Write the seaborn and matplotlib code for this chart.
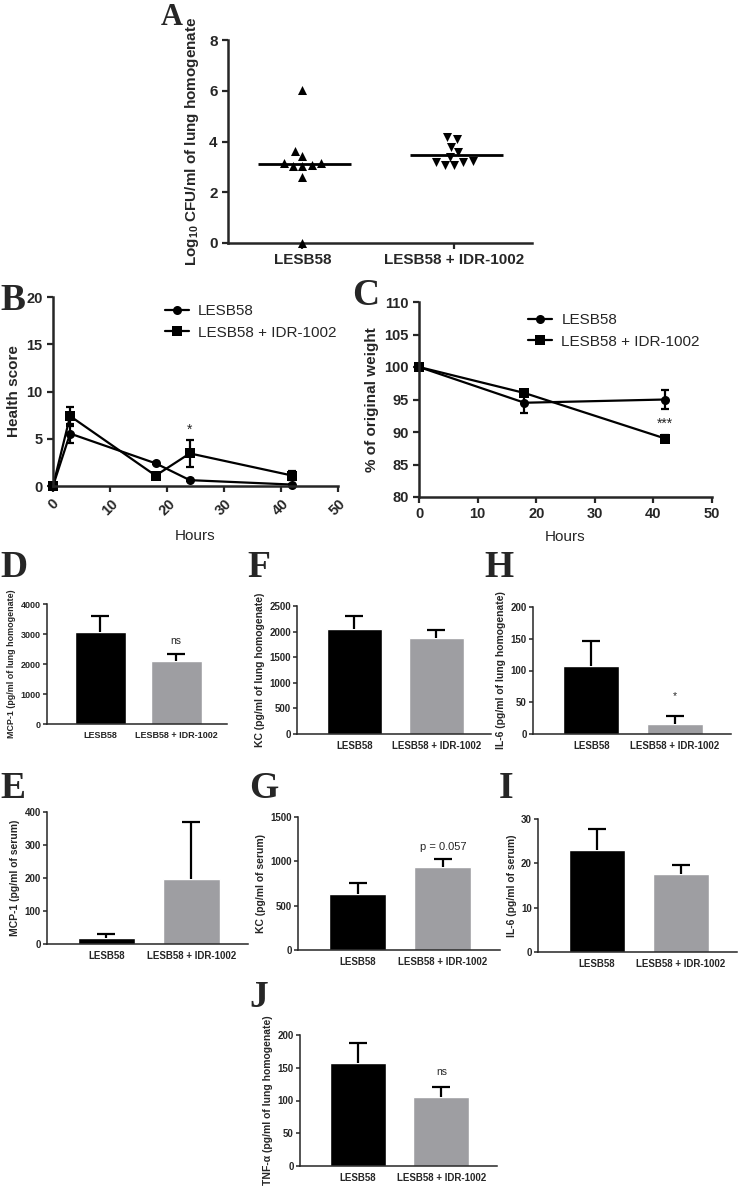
import numpy as np
import pandas as pd
import matplotlib
matplotlib.use('Agg')
import matplotlib.pyplot as plt
import seaborn as sns

sns.set_style('ticks')
plt.rcParams['font.family'] = ['Liberation Sans', 'DejaVu Sans']
plt.rcParams['mathtext.default'] = 'regular'

W, H = 742, 1188

# ---- data ----
groups = ['LESB58', 'LESB58 + IDR-1002']

# A: bacterial load (log10 CFU/ml)
cfu_lesb = [6.03, 3.61, 3.41, 3.17, 3.15, 3.08, 3.02, 3.02, 2.62, 0.0]
cfu_idr = [4.17, 4.09, 3.80, 3.57, 3.38, 3.24, 3.21, 3.20, 3.06, 3.06]

# B: health score
hours_b = [0, 3, 18, 24, 42]
health_lesb = [0, 5.55, 2.4, 0.62, 0.15]
health_lesb_err = [0, 1.0, 0.1, 0.1, 0.1]
health_idr = [0, 7.4, 1.1, 3.45, 1.1]
health_idr_err = [0, 1.0, 0.15, 1.45, 0.45]

# C: weight
hours_c = [0, 18, 42]
weight_lesb = [100, 94.5, 95.0]
weight_lesb_err = [0, 1.6, 1.5]
weight_idr = [100, 96.0, 89.0]
weight_idr_err = [0, 0.3, 0.5]

# D-J: cytokines
mcp1_lung = [3070, 2090]
mcp1_lung_err = [540, 255]
kc_lung = [2045, 1877]
kc_lung_err = [260, 155]
il6_lung = [106.5, 15.7]
il6_lung_err = [40, 12]
mcp1_serum = [17, 198]
mcp1_serum_err = [13, 173]
kc_serum = [626, 937]
kc_serum_err = [128, 94]
il6_serum = [22.9, 17.6]
il6_serum_err = [4.8, 2.1]
tnf_lung = [156.5, 105]
tnf_lung_err = [31, 15]

bar_colors = ['#000000', '#9e9ea2']

fig = plt.figure(figsize=(W / 100, H / 100), dpi=100)


def add_ax(l, t, r, b):
    return fig.add_axes([l / W, 1 - b / H, (r - l) / W, (b - t) / H])


def panel_letter(x, y, s, size=27):
    fig.text(x / W, 1 - y / H, s, family='Liberation Serif', weight='bold',
             fontsize=size, va='baseline', ha='left')


# =============================================
# A. CFU scatter
# =============================================
ax = add_ax(228, 40, 532, 243)
sns.swarmplot(x=[groups[0]] * len(cfu_lesb), y=cfu_lesb, order=groups,
              marker='^', color='black', size=6.5, ax=ax)
sns.swarmplot(x=[groups[1]] * len(cfu_idr), y=cfu_idr, order=groups,
              marker='v', color='black', size=6.5, ax=ax)
for c in ax.collections:
    c.set_clip_on(False)
for i, vals in enumerate([cfu_lesb, cfu_idr]):
    ax.hlines(np.mean(vals), i - 0.29, i + 0.32, color='black', lw=2)
ax.set_xlim(-0.49, 1.51)
ax.set_ylim(0, 8)
ax.set_yticks([0, 2, 4, 6, 8])
ax.set_ylabel('Log$_{10}$ CFU/ml of lung homogenate', fontsize=11,
              fontweight='bold', labelpad=6)
ax.set_xlabel('')
for lab in ax.get_xticklabels() + ax.get_yticklabels():
    lab.set_fontweight('bold')
ax.tick_params(labelsize=11, width=1.6, length=4)
for s in ['left', 'bottom']:
    ax.spines[s].set_linewidth(1.8)
sns.despine(ax=ax)
panel_letter(161, 25, 'A', size=22)


# =============================================
# B, C. time courses
# =============================================
def time_panel(rect, hours, v1, e1, v2, e2, ylim, yticks, ylabel, rot, leg_anchor):
    ax = add_ax(*rect)
    sns.lineplot(x=hours, y=v1, marker='o', markersize=6.5, color='black', lw=1.6,
                 label='LESB58', ax=ax, clip_on=False, markeredgewidth=0)
    sns.lineplot(x=hours, y=v2, marker='s', markersize=7, color='black', lw=1.6,
                 label='LESB58 + IDR-1002', ax=ax, clip_on=False, markeredgewidth=0)
    ax.errorbar(hours, v1, yerr=e1, fmt='none', ecolor='black', elinewidth=1.6,
                capsize=3, capthick=1.6, clip_on=False)
    ax.errorbar(hours, v2, yerr=e2, fmt='none', ecolor='black', elinewidth=1.6,
                capsize=3, capthick=1.6, clip_on=False)
    ax.set_xlim(0, 50)
    ax.set_ylim(*ylim)
    ax.set_yticks(yticks)
    ax.set_xticks([0, 10, 20, 30, 40, 50])
    ax.set_ylabel(ylabel, fontsize=11, fontweight='bold', labelpad=4)
    ax.set_xlabel('Hours', fontsize=11)
    ax.tick_params(labelsize=10.5, width=1.6, length=4)
    for lab in ax.get_xticklabels() + ax.get_yticklabels():
        lab.set_fontweight('bold')
    if rot:
        plt.setp(ax.get_xticklabels(), rotation=45, ha='center', va='top')
    for s in ['left', 'bottom']:
        ax.spines[s].set_linewidth(1.8)
    sns.despine(ax=ax)
    ax.legend(loc='upper left', bbox_to_anchor=leg_anchor, frameon=False,
              fontsize=11, handlelength=1.6, borderaxespad=0, labelspacing=0.5,
              handletextpad=0.6)
    return ax


ax = time_panel((53, 297, 338, 486), hours_b, health_lesb, health_lesb_err,
                health_idr, health_idr_err, (0, 20), [0, 5, 10, 15, 20],
                'Health score', True, (0.37, 0.995))
ax.xaxis.labelpad = 8
ax.text(24, 6.0, '*', ha='center', va='center', fontsize=10)
panel_letter(0, 310, 'B')

ax = time_panel((419, 302, 712, 497), hours_c, weight_lesb, weight_lesb_err,
                weight_idr, weight_idr_err, (80, 110), [80, 85, 90, 95, 100, 105, 110],
                '% of original weight', False, (0.35, 0.975))
ax.xaxis.labelpad = 6
ax.text(42, 91.2, '***', ha='center', va='center', fontsize=10)
panel_letter(352, 305, 'C')


# =============================================
# D-J. cytokine bars
# =============================================
def bar_panel(rect, vals, errs, ymax, step, ylabel, fs=7, lfs=7.5):
    ax = add_ax(*rect)
    df = pd.DataFrame({'group': groups, 'value': vals})
    sns.barplot(data=df, x='group', y='value', hue='group', palette=bar_colors,
                width=0.67, errorbar=None, legend=False, saturation=1, ax=ax)
    eb = ax.errorbar([0, 1], vals, yerr=[[0, 0], errs], fmt='none', ecolor='black',
                     elinewidth=1.6, capsize=6.5, capthick=1.6)
    # upper error only: hide the cap sitting on the bar top
    eb[1][0].set_visible(False)
    ax.set_xlim(-0.7, 1.67)
    ax.set_ylim(0, ymax)
    ax.set_yticks(np.arange(0, ymax + step / 2, step))
    ax.set_xlabel('')
    ax.set_ylabel(ylabel, fontsize=lfs, fontweight='bold', labelpad=3)
    ax.tick_params(axis='y', labelsize=fs, width=1.1, length=3, pad=1.5)
    ax.tick_params(axis='x', labelsize=fs, length=0, pad=5)
    for lab in ax.get_xticklabels() + ax.get_yticklabels():
        lab.set_fontweight('bold')
    for s in ['left', 'bottom']:
        ax.spines[s].set_linewidth(1.1)
    sns.despine(ax=ax)
    return ax


ax = bar_panel((47, 604, 227, 724), mcp1_lung, mcp1_lung_err, 4000, 1000,
               'MCP-1 (pg/ml of lung homogenate)', fs=6.5, lfs=6.4)
ax.text(1, 2755, 'ns', ha='center', va='center', fontsize=7.5)
panel_letter(0, 577, 'D')

ax = bar_panel((297, 606, 491, 734), kc_lung, kc_lung_err, 2500, 500,
               'KC (pg/ml of lung homogenate)')
panel_letter(247, 577, 'F')

ax = bar_panel((533, 607, 731, 734), il6_lung, il6_lung_err, 200, 50,
               'IL-6 (pg/ml of lung homogenate)')
ax.text(1, 59, '*', ha='center', va='center', fontsize=7.5)
panel_letter(484, 577, 'H')

ax = bar_panel((47, 812, 248, 944), mcp1_serum, mcp1_serum_err, 400, 100,
               'MCP-1 (pg/ml of serum)')
panel_letter(0, 798, 'E')

ax = bar_panel((298, 817, 500, 950), kc_serum, kc_serum_err, 1500, 500,
               'KC (pg/ml of serum)')
ax.text(1, 1162, 'p = 0.057', ha='center', va='center', fontsize=8)
panel_letter(249, 798, 'G')

ax = bar_panel((538, 819, 737, 952), il6_serum, il6_serum_err, 30, 10,
               'IL-6 (pg/ml of serum)')
panel_letter(499, 798, 'I')

ax = bar_panel((300, 1035, 497, 1166), tnf_lung, tnf_lung_err, 200, 50,
               'TNF-α (pg/ml of lung homogenate)')
ax.text(1, 144, 'ns', ha='center', va='center', fontsize=7.5)
panel_letter(249, 1007, 'J')

plt.savefig('out.png', dpi=100)
plt.close()
